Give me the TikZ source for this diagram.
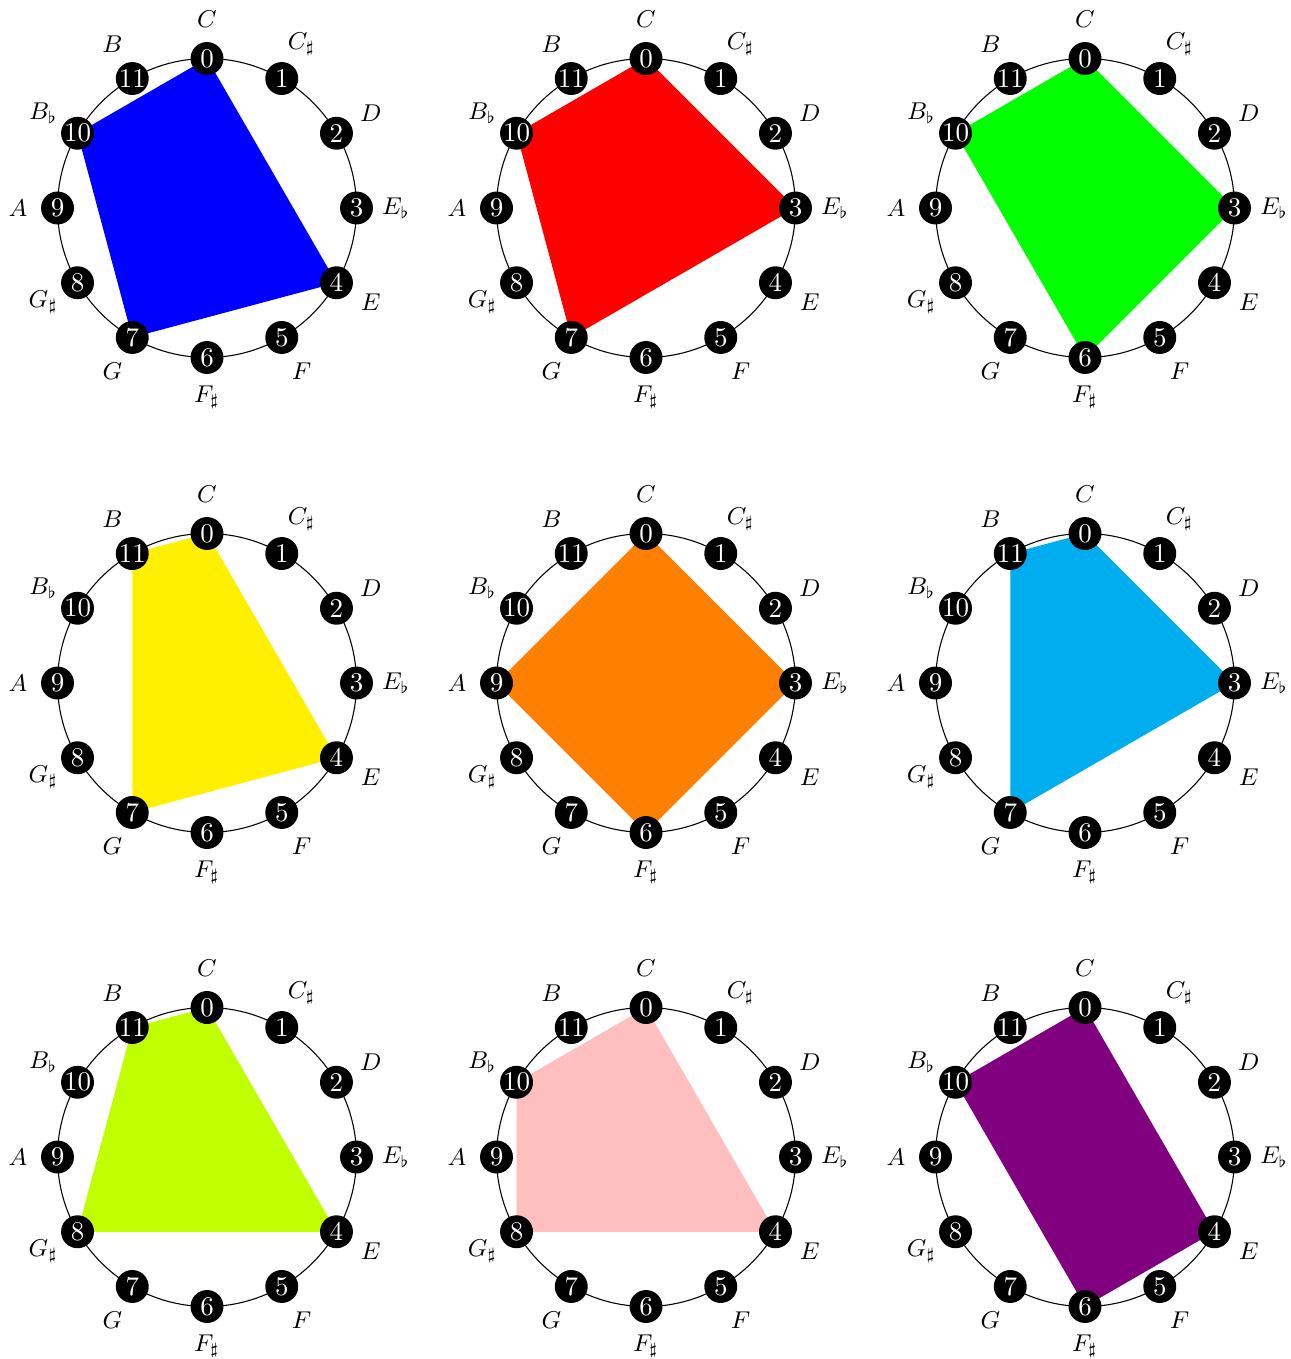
\documentclass[tikz,border=0pt]{standalone}
\definecolor{myblue}{RGB}{0,0,255}
\definecolor{myred}{RGB}{255,0,0}
\definecolor{mygreen}{RGB}{0,255,0}
\definecolor{myyellow}{RGB}{255,240,0}
\definecolor{myorange}{RGB}{255,128,0}
\definecolor{mycyan}{RGB}{0,174,239}
\definecolor{mylime}{RGB}{191,255,0}
\definecolor{mypink}{RGB}{255,191,191}
\definecolor{mypurple}{RGB}{128,0,128}
\begin{document}
\begin{tikzpicture}[x=0.37037pt,y=-0.37037pt,
  pc/.style={circle,fill=black,text=white,minimum size=12.2pt,inner sep=0pt,font=\normalsize},
  notelabel/.style={font=\small,inner sep=0pt},
  ring/.style={draw=black,line width=0.4pt}]
\useasboundingbox (0,0) rectangle (1290,1359);
\foreach \g/\cx/\cy/\col/\va/\vb/\vc/\vd in {
  1/207/208/myblue/0/4/7/10,
  2/646/208/myred/0/3/7/10,
  3/1085/208/mygreen/0/3/6/10,
  4/207/683/myyellow/0/4/7/11,
  5/646/683/myorange/0/3/6/9,
  6/1085/683/mycyan/0/3/7/11,
  7/207/1157/mylime/0/4/8/11,
  8/646/1157/mypink/0/4/8/10,
  9/1085/1157/mypurple/0/4/6/10}{
  \coordinate (ctr\g) at (\cx,\cy);
  \foreach \k in {0,...,11}{
    \coordinate (c\g-\k) at ({\cx+149.5*cos(90-30*\k)},{\cy-149.5*sin(90-30*\k)});
  }
  \draw[ring] (ctr\g) circle[radius=149.5];
  \fill[\col] (c\g-\va) -- (c\g-\vb) -- (c\g-\vc) -- (c\g-\vd) -- cycle;
  \foreach \k/\nm in {0/C,1/C_\sharp,2/D,3/E_\flat,4/E,5/F,6/F_\sharp,7/G,8/G_\sharp,9/A,10/B_\flat,11/B}{
    \node[pc] (n\g-\k) at (c\g-\k) {\k};
    \node[notelabel] (l\g-\k) at ({\cx+189*cos(90-30*\k)},{\cy-189*sin(90-30*\k)}) {$\nm$};
  }
}
\end{tikzpicture}
\end{document}
